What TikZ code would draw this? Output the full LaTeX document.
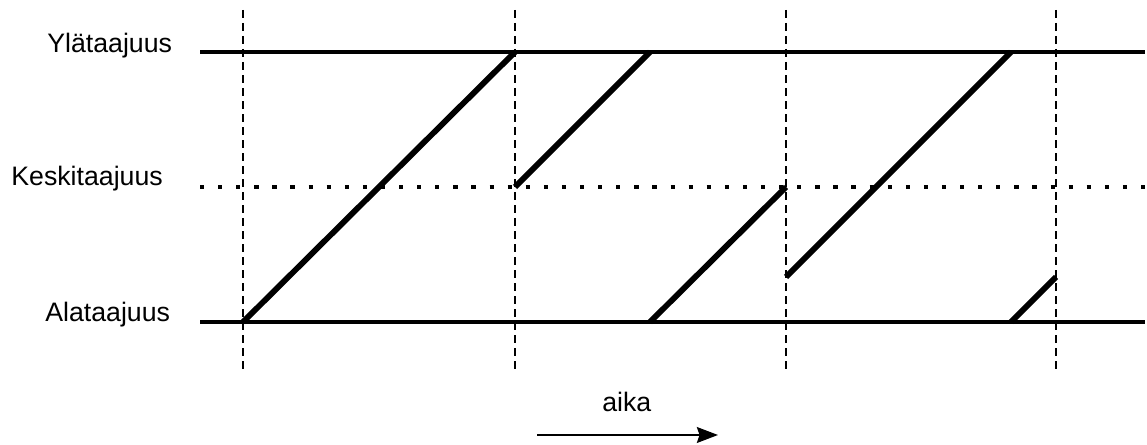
\documentclass[tikz,border=0pt]{standalone}
\usepackage{fontspec}
\setmainfont{Liberation Sans}
\usetikzlibrary{arrows.meta}
\tikzset{
  band/.style={draw, line width=2.2pt},
  centreband/.style={draw, line width=2.4pt, dash pattern=on 2.4pt off 7.9pt},
  sweep/.style={draw, line width=3.3pt},
  marker/.style={draw, line width=0.8pt, dash pattern=on 4.5pt off 2.9pt},
  levellabel/.style={anchor=base west, inner sep=0pt, font=\fontsize{15.2}{18}\selectfont},
  timearrow/.style={draw, line width=1.2pt, -{Stealth[length=12pt, width=9pt, inset=1.5pt]}}
}
\begin{document}
\begin{tikzpicture}[x=0.02cm, y=-0.02cm]
  \useasboundingbox (0,0) rectangle (1147,445);
  % The three frequency levels, with their names on the left.
  \coordinate (hiL) at (200,52);  \coordinate (hiR) at (1145,52);
  \coordinate (miL) at (200,187); \coordinate (miR) at (1145,187);
  \coordinate (loL) at (200,322); \coordinate (loR) at (1145,322);
  \draw[band] (hiL) -- (hiR);
  \draw[centreband] (miL) -- (miR);
  \draw[band] (loL) -- (loR);
  \node[levellabel] (lblhi) at (47,53)  {Ylätaajuus};
  \node[levellabel] (lblmi) at (11,186) {Keskitaajuus};
  \node[levellabel] (lblo)  at (45,322) {Alataajuus};
  % Symbol boundaries.
  \foreach \x [count=\i] in {243,515,786,1056} {
    \coordinate (va\i) at (\x,10);
    \coordinate (vb\i) at (\x,370);
    \draw[marker] (va\i) -- (vb\i);
  }
  % The chirps: each one climbs at the same rate and wraps at the top.
  \coordinate (s1a) at (243,322);  \coordinate (s1b) at (515,52);
  \coordinate (s2a) at (515,187);  \coordinate (s2b) at (650,52);
  \coordinate (s3a) at (650,322);  \coordinate (s3b) at (786,187);
  \coordinate (s4a) at (786,277);  \coordinate (s4b) at (1011,52);
  \coordinate (s5a) at (1011,322); \coordinate (s5b) at (1056,277);
  \foreach \s in {1,...,5} {
    \draw[sweep] (s\s a) -- (s\s b);
  }
  % Time axis.
  \node[levellabel] (lblaika) at (602,412) {aika};
  \coordinate (aikaA) at (537,435);
  \coordinate (aikaB) at (718,435);
  \draw[timearrow] (aikaA) -- (aikaB);
\end{tikzpicture}
\end{document}
